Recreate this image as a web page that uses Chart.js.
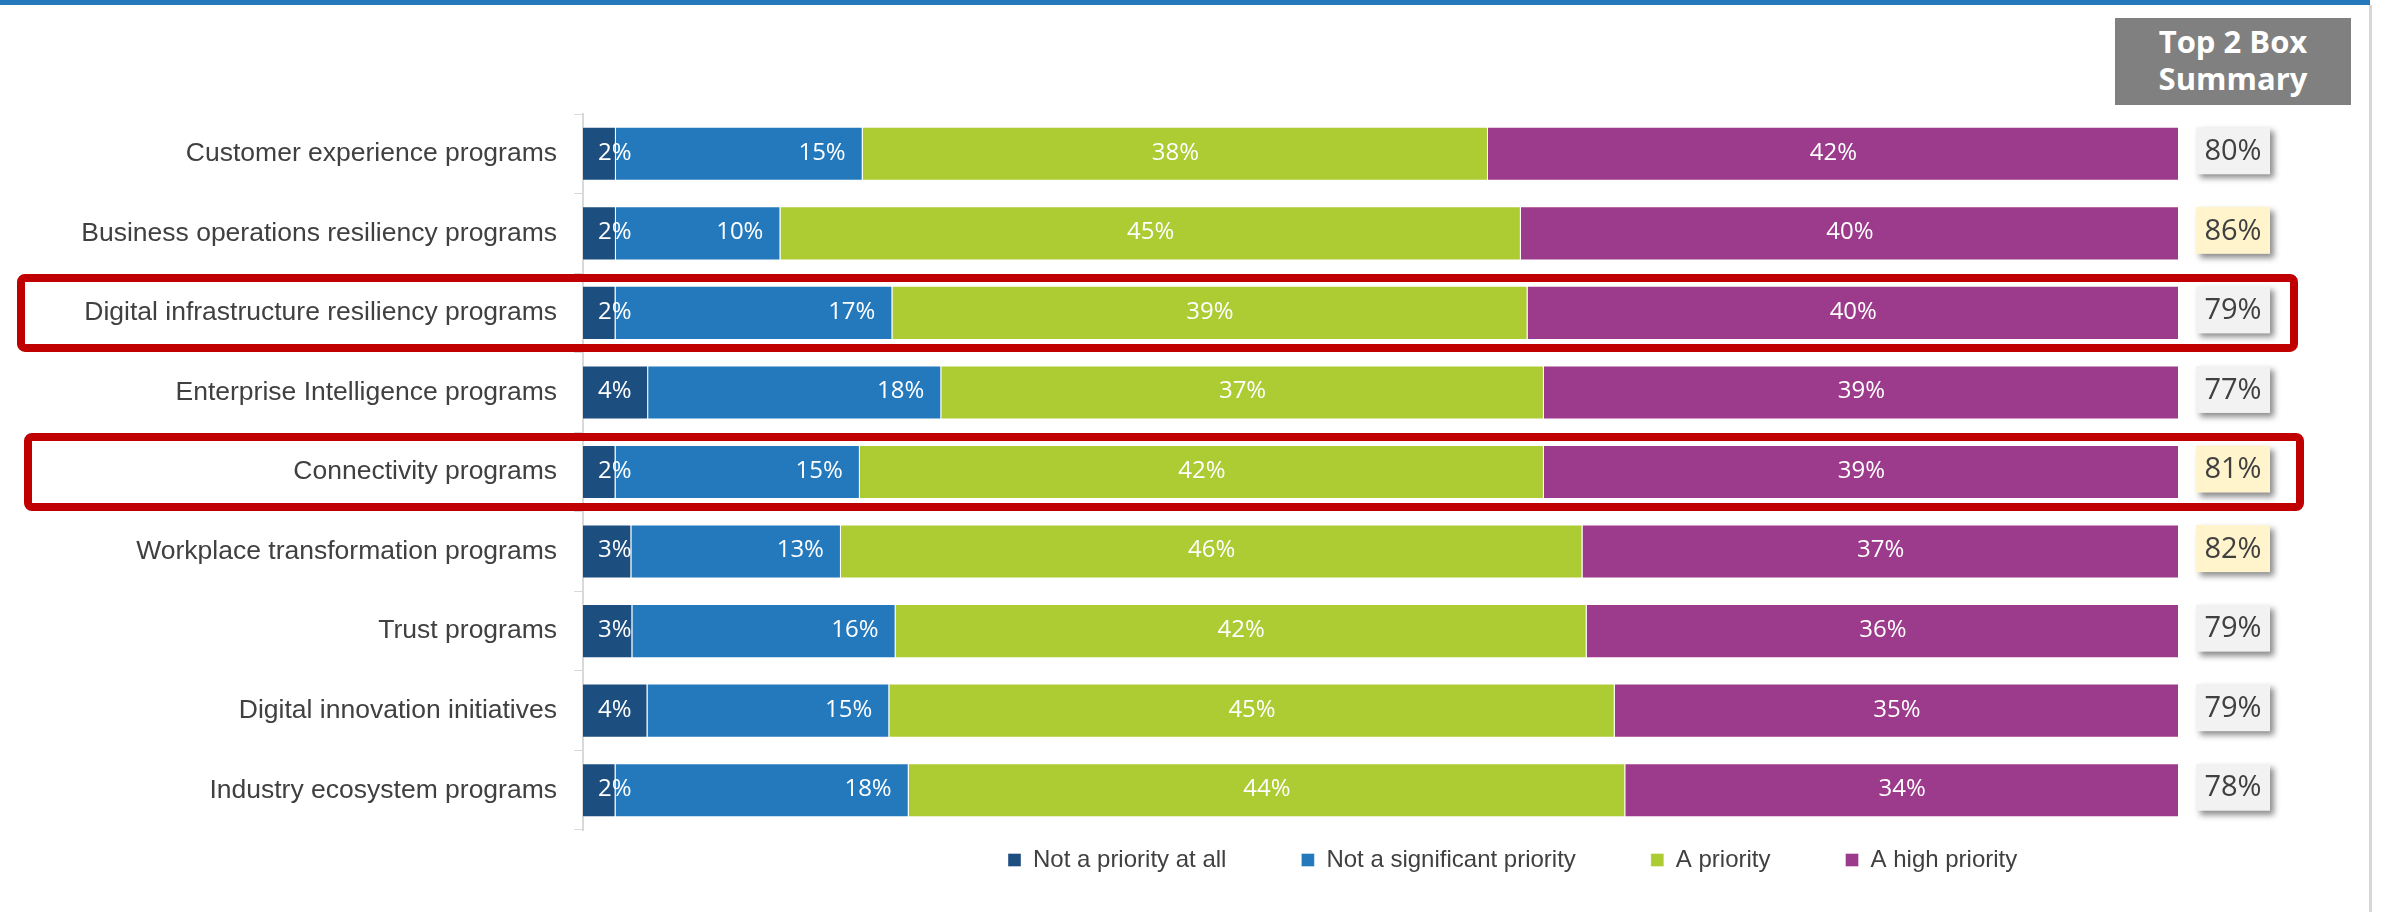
<!DOCTYPE html>
<html>
<head>
<meta charset="utf-8">
<title>Program priorities</title>
<script src="https://cdn.jsdelivr.net/npm/chart.js@4.4.1/dist/chart.umd.min.js"></script>
<style>
  html, body { margin: 0; padding: 0; background: #fff; overflow: hidden; }
  #wrap { position: relative; width: 2381px; height: 912px; }
  #topLine { position: absolute; left: 0; top: 0; width: 2370px; height: 5px; background: #2479bd; }
  #rightLine { position: absolute; left: 2369px; top: 5px; width: 3px; height: 907px; background: #d6d6d6; }
  #myChart { position: absolute; left: 0; top: 0; }
  #summaryHead {
    position: absolute; left: 2115px; top: 18px; width: 236px; height: 87px;
    box-sizing: border-box; padding-top: 5px;
    background: #808080; color: #fff; text-align: center;
    font: bold 31px 'Open Sans', sans-serif; line-height: 37px;
  }
</style>
</head>
<body>
<div id="wrap">
  <div id="topLine"></div>
  <div id="rightLine"></div>
  <canvas id="myChart" width="2381" height="912"></canvas>
  <div id="summaryHead">Top 2 Box<br>Summary</div>
</div>

<script>
//Data
const categories = [
    'Customer experience programs',
    'Business operations resiliency programs',
    'Digital infrastructure resiliency programs',
    'Enterprise Intelligence programs',
    'Connectivity programs',
    'Workplace transformation programs',
    'Trust programs',
    'Digital innovation initiatives',
    'Industry ecosystem programs'
];
const notAtAll       = [2, 2, 2, 4, 2, 3, 3, 4, 2];
const notSignificant = [15, 10, 17, 18, 15, 13, 16, 15, 18];
const aPriority      = [38, 45, 39, 37, 42, 46, 42, 45, 44];
const highPriority   = [42, 40, 40, 39, 39, 37, 36, 35, 34];
const top2Box        = [80, 86, 79, 77, 81, 82, 79, 79, 78];
const seriesNames = ['Not a priority at all', 'Not a significant priority', 'A priority', 'A high priority'];
const highlighted = ['Digital infrastructure resiliency programs', 'Connectivity programs'];

const series = [notAtAll, notSignificant, aPriority, highPriority];
const colors = ['#1c4e80', '#2479bd', '#adcb32', '#9c3a8b'];

//every bar is shown as 100% of its row
const totals = categories.map((c, j) => series.reduce((s, arr) => s + arr[j], 0));

//three highest summary values get the yellow box
const cutoff = [...top2Box].sort((a, b) => b - a)[2];

const extras = {
    id: 'extras',
    afterLayout(chart) {
        //put the legend row where it sits in the original
        const lg = chart.legend;
        lg.left = 933;
        lg.right = 2381;
        lg.top = 773;
        lg.bottom = 912;
    },
    afterDatasetsDraw(chart) {
        const ctx = chart.ctx;
        ctx.save();
        ctx.font = '24px "Open Sans"';
        ctx.fillStyle = '#ffffff';
        ctx.textBaseline = 'middle';
        series.forEach((arr, i) => {
            chart.getDatasetMeta(i).data.forEach((bar, j) => {
                const txt = arr[j] + '%';
                const y = bar.y - 1;
                if (i === 0) {
                    ctx.textAlign = 'left';
                    ctx.fillText(txt, bar.base + 15, y);
                } else if (i === 1) {
                    ctx.textAlign = 'right';
                    ctx.fillText(txt, bar.x - 17, y);
                } else {
                    ctx.textAlign = 'center';
                    ctx.fillText(txt, (bar.x + bar.base) / 2, y);
                }
            });
        });
        ctx.restore();
    },
    afterDraw(chart) {
        const ctx = chart.ctx;
        const yScale = chart.scales.y;

        //summary boxes on the right
        ctx.save();
        top2Box.forEach((v, j) => {
            const y = yScale.getPixelForValue(j) - 3;
            ctx.save();
            ctx.shadowColor = 'rgba(0,0,0,0.45)';
            ctx.shadowBlur = 6;
            ctx.shadowOffsetX = 4;
            ctx.shadowOffsetY = 4;
            ctx.fillStyle = v >= cutoff ? '#fff4cc' : '#f2f2f2';
            ctx.fillRect(2196, y - 23.5, 74, 47);
            ctx.restore();
            ctx.fillStyle = '#404040';
            ctx.font = '29px "Open Sans"';
            ctx.textAlign = 'center';
            ctx.textBaseline = 'middle';
            ctx.fillText(v + '%', 2233, y + 1);
        });

        //red frames round the highlighted rows
        const frameX = [[21, 2294], [28, 2300]];
        ctx.strokeStyle = '#c00000';
        ctx.lineWidth = 8;
        highlighted.forEach((name, k) => {
            const y = yScale.getPixelForValue(categories.indexOf(name));
            ctx.beginPath();
            ctx.roundRect(frameX[k][0], y - 35, frameX[k][1] - frameX[k][0], 70, 4);
            ctx.stroke();
        });
        ctx.restore();
    }
};

function drawChart() {
    let myChart = document.getElementById('myChart').getContext('2d');

    new Chart(myChart, {
        type: 'bar',
        data: {
            labels: categories,
            datasets: series.map((arr, i) => ({
                label: seriesNames[i],
                data: arr.map((v, j) => v / totals[j] * 100),
                backgroundColor: colors[i],
                borderColor: 'rgba(255,255,255,0.4)',
                borderWidth: 1,
                barPercentage: 0.68,
                categoryPercentage: 1
            }))
        },
        options: {
            indexAxis: 'y', //horizontal bars
            responsive: false,
            animation: false,
            devicePixelRatio: 1,
            layout: {
                padding: { left: 0, right: 202, top: 114, bottom: 0 }
            },
            scales: {
                x: {
                    stacked: true,
                    min: 0,
                    max: 100,
                    display: false
                },
                y: {
                    stacked: true,
                    border: { color: '#d9d9d9', width: 2 },
                    grid: {
                        drawOnChartArea: false,
                        drawTicks: true,
                        tickLength: 9,
                        color: '#d9d9d9',
                        offset: true
                    },
                    ticks: {
                        color: '#404040',
                        padding: 17,
                        font: { family: '"Liberation Sans", Arial, sans-serif', size: 26.5 }
                    },
                    afterFit: s => { s.width = 583; }
                }
            },
            plugins: {
                tooltip: { enabled: false },
                legend: {
                    display: true,
                    position: 'bottom',
                    align: 'start',
                    maxHeight: 82,
                    labels: {
                        boxWidth: 13,
                        boxHeight: 13,
                        padding: 75,
                        color: '#404040',
                        font: { family: '"Liberation Sans", Arial, sans-serif', size: 24 }
                    }
                }
            }
        },
        plugins: [extras]
    });
}

Promise.all([
    document.fonts.load('24px "Open Sans"'),
    document.fonts.load('26px "Liberation Sans"')
]).then(drawChart, drawChart);
</script>
</body>
</html>
